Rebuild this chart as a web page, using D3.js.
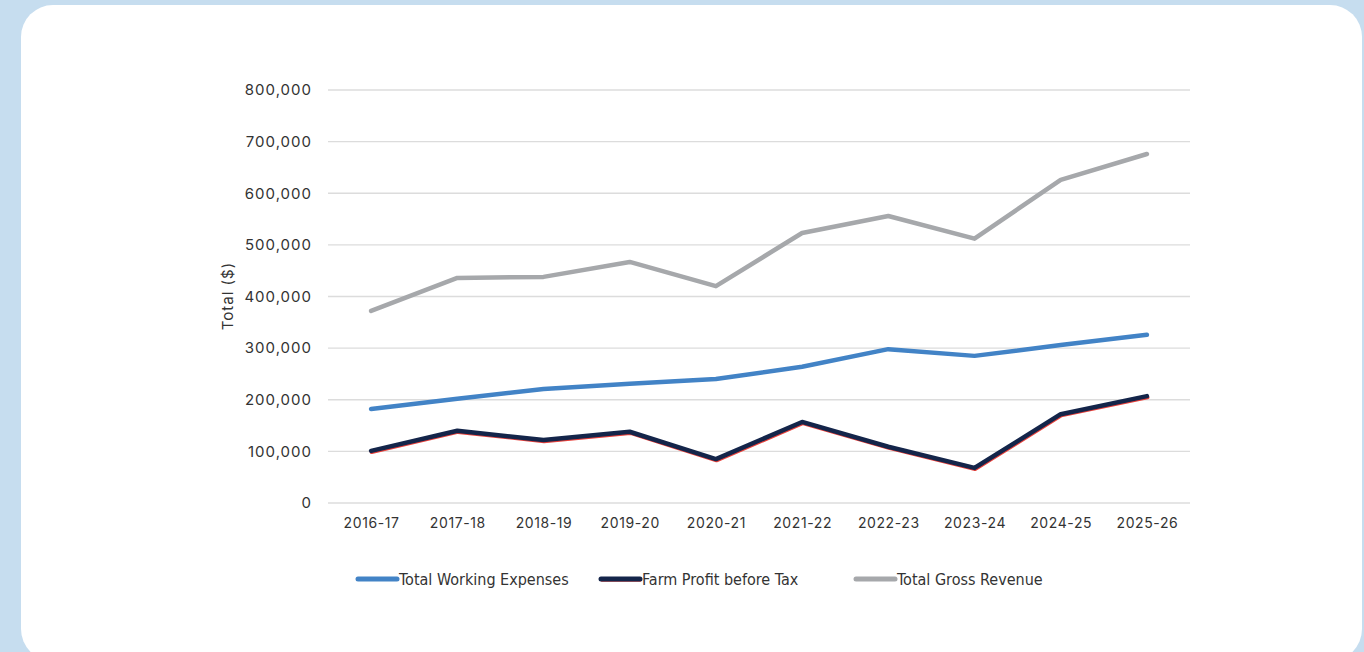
<!DOCTYPE html>
<html>
<head>
  <meta charset="utf-8">
  <title>Farm totals</title>
  <script src="https://d3js.org/d3.v7.min.js"></script>
  <style>
body { margin: 0; background: #c6ddef; overflow: hidden; }
.tick text { font-family: Inter, "Open Sans", sans-serif; fill: #333; }
</style>
</head>
<body>
<div id="chart"></div>
<script>
var years = ["2016-17","2017-18","2018-19","2019-20","2020-21","2021-22","2022-23","2023-24","2024-25","2025-26"];
var workingExpenses = [182000, 202000, 221000, 231000, 240000, 264000, 298000, 285000, 306000, 326000];
var farmProfit = [101000, 140000, 122000, 138000, 85000, 157000, 109000, 68000, 172000, 207000];
var grossRevenue = [372000, 436000, 438000, 467000, 420000, 523000, 556000, 512000, 626000, 676000];
var yTicks = [0, 100000, 200000, 300000, 400000, 500000, 600000, 700000, 800000];
var seriesNames = ["Total Working Expenses", "Farm Profit before Tax", "Total Gross Revenue"];

var series = [
  {name: seriesNames[0], values: workingExpenses, color: "#4283c6"},
  {name: seriesNames[1], values: farmProfit, color: "#14254a", under: "#e8413b"},
  {name: seriesNames[2], values: grossRevenue, color: "#a6a8ab"}
];

var w = 1364, h = 652;
var svg = d3.select("#chart").append("svg")
  .attr("width", w)
  .attr("height", h);

// white card
svg.append("rect")
  .attr("x", 21).attr("y", 5)
  .attr("width", 1341).attr("height", 656)
  .attr("rx", 32).attr("ry", 32)
  .attr("fill", "#fff");

var x = d3.scalePoint().domain(years).range([328, 1190]).padding(0.5);
var y = d3.scaleLinear().domain([0, 800000]).range([503, 90]);

// gridlines
svg.append("g").selectAll("line").data(yTicks).enter()
  .append("line")
    .attr("x1", 328).attr("x2", 1190)
    .attr("y1", d => y(d)).attr("y2", d => y(d))
    .attr("stroke", "#dcdcdc")
    .attr("stroke-width", 1.3);

var yAxis = svg.append("g")
  .attr("transform", "translate(328,0)")
  .call(d3.axisLeft(y).tickValues(yTicks).tickFormat(d3.format(",")).tickSize(0).tickPadding(16));
yAxis.select(".domain").remove();
yAxis.selectAll("text").style("font-size", "15px").style("letter-spacing", "1px");

var xAxis = svg.append("g")
  .attr("transform", "translate(0,503)")
  .call(d3.axisBottom(x).tickSize(0).tickPadding(15));
xAxis.select(".domain").remove();
xAxis.selectAll("text").style("font-size", "14px").style("letter-spacing", "0.6px");

svg.append("text")
  .attr("transform", "translate(233,296) rotate(-90)")
  .attr("text-anchor", "middle")
  .style("font-family", "Inter, 'Open Sans', sans-serif")
  .style("font-size", "15px")
  .style("letter-spacing", "1px")
  .attr("fill", "#333")
  .text("Total ($)");

var line = d3.line()
  .x((d, i) => x(years[i]))
  .y(d => y(d));

series.forEach(function(s) {
  if (s.under) {
    svg.append("path")
      .attr("d", line(s.values))
      .attr("transform", "translate(0.6,1.2)")
      .attr("fill", "none")
      .attr("stroke", s.under)
      .attr("stroke-width", 4)
      .attr("stroke-linecap", "round")
      .attr("stroke-linejoin", "round");
  }
  svg.append("path")
    .attr("d", line(s.values))
    .attr("fill", "none")
    .attr("stroke", s.color)
    .attr("stroke-width", 4.5)
    .attr("stroke-linecap", "round")
    .attr("stroke-linejoin", "round");
});

// legend
var legendX = [357, 600, 855];
var legend = svg.append("g").selectAll("g").data(series).enter()
  .append("g")
    .attr("transform", (d, i) => "translate(" + legendX[i] + ",579)");
legend.filter(d => d.under).append("line")
  .attr("x1", 2).attr("x2", 40).attr("y1", 1.3).attr("y2", 1.3)
  .attr("stroke", d => d.under).attr("stroke-width", 3).attr("stroke-linecap", "round");
legend.append("line")
  .attr("x1", 1).attr("x2", 40).attr("y1", 0).attr("y2", 0)
  .attr("stroke", d => d.color).attr("stroke-width", 5).attr("stroke-linecap", "round");
legend.append("text")
  .attr("x", 42).attr("y", 5.5)
  .style("font-family", "'Liberation Sans Narrow', 'DejaVu Sans Condensed', sans-serif")
  .style("font-size", "16px")
  .attr("fill", "#333")
  .text(d => d.name);
</script>
</body>
</html>
